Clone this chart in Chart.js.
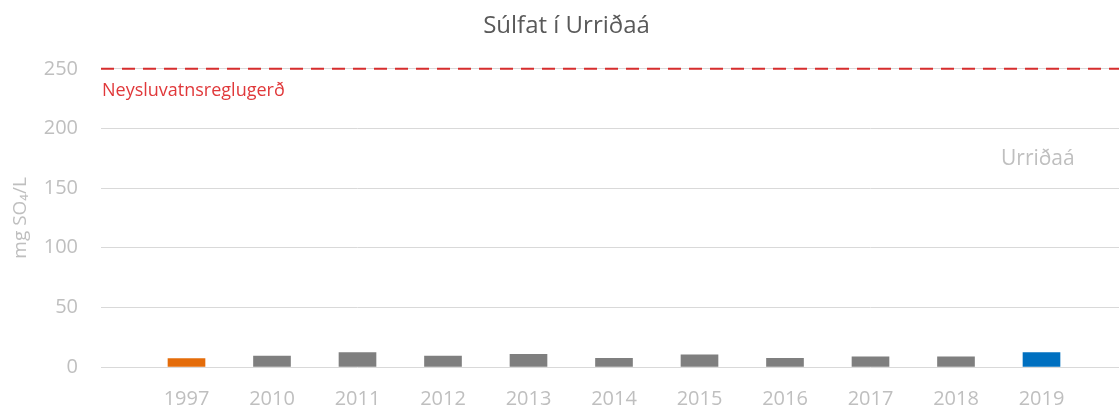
<!DOCTYPE html>
<html>
<head>
<meta charset="utf-8">
<script src="https://cdn.jsdelivr.net/npm/chart.js@4.4.1/dist/chart.umd.min.js"></script>
<style>
html{margin:0;padding:0;overflow:hidden;background:#fff;}
body{margin:0;padding:0;background:#fff;width:1133px;height:408px;}
#wrap{position:absolute;left:0;top:0;width:1133px;height:408px;}
canvas{display:block;}
</style>
</head>
<body>
<div id="wrap"><canvas id="c" width="1133" height="408" style="width:1133px;height:408px"></canvas></div>
<script>
const categories = ['', '1997','2010','2011','2012','2013','2014','2015','2016','2017','2018','2019', ''];
const sulfateValues = [null, 7.0, 9.2, 12.0, 9.2, 10.7, 7.3, 10.3, 7.3, 8.6, 8.6, 12.0, null];
const barColors = ['#7F7F7F','#E46C0A','#7F7F7F','#7F7F7F','#7F7F7F','#7F7F7F','#7F7F7F','#7F7F7F','#7F7F7F','#7F7F7F','#7F7F7F','#0070C0','#7F7F7F'];
const yTicks = [0, 50, 100, 150, 200, 250];
const limitValue = 250;
const limitLabel = 'Neysluvatnsreglugerð';
const seriesLabel = 'Urriðaá';

const FONT = "'Open Sans', sans-serif";

const annotate = {
  id: 'annotate',
  afterDatasetsDraw(chart) {
    const {ctx, chartArea, scales} = chart;
    const y = scales.y.getPixelForValue(limitValue);
    ctx.save();
    ctx.strokeStyle = '#D62D2D';
    ctx.lineWidth = 2;
    ctx.setLineDash([13, 8]);
    ctx.beginPath();
    ctx.moveTo(chartArea.left, y);
    ctx.lineTo(chartArea.right, y);
    ctx.stroke();
    ctx.setLineDash([]);
    ctx.fillStyle = '#E0383A';
    ctx.font = "18px " + FONT;
    ctx.textBaseline = 'middle';
    ctx.textAlign = 'left';
    ctx.fillText(limitLabel, chartArea.left + 1, y + 22);
    ctx.fillStyle = '#BFBFBF';
    ctx.font = "21px " + FONT;
    ctx.fillText(seriesLabel, 1001, scales.y.getPixelForValue(150) - 29);
    ctx.restore();
  }
};

new Chart(document.getElementById('c'), {
  type: 'bar',
  data: {
    labels: categories,
    datasets: [{
      data: sulfateValues,
      backgroundColor: barColors,
      barThickness: 37
    }]
  },
  options: {
    responsive: false,
    animation: false,
    layout: { padding: { left: 6, right: 6, top: 0, bottom: 0 } },
    plugins: {
      legend: { display: false },
      tooltip: { enabled: false },
      title: {
        display: true,
        text: 'Súlfat í Urriðaá',
        color: '#595959',
        font: { family: FONT, size: 24, weight: 'normal' },
        padding: { top: 12, bottom: 28 }
      }
    },
    scales: {
      x: {
        offset: false,
        grid: { display: false, drawTicks: false },
        border: { display: false },
        ticks: { color: '#BFBFBF', font: { family: FONT, size: 20 }, padding: 20, maxRotation: 0, autoSkip: false },
        afterFit(s) { s.height = 41; s.paddingLeft = 0; s.paddingRight = 0; }
      },
      y: {
        min: 0,
        max: 250,
        afterBuildTicks(s) { s.ticks = yTicks.map(v => ({ value: v })); },
        grid: { color: '#D9D9D9', drawTicks: false, lineWidth: 1 },
        border: { display: false },
        ticks: { color: '#BFBFBF', font: { family: FONT, size: 20 }, padding: 23 },
        title: {
          display: true,
          text: 'mg SO₄/L',
          color: '#BFBFBF',
          font: { family: FONT, size: 19 },
          padding: { top: 3, bottom: 0 }
        },
        afterFit(s) { s.width = 95; }
      }
    }
  },
  plugins: [annotate]
});
</script>
</body>
</html>
